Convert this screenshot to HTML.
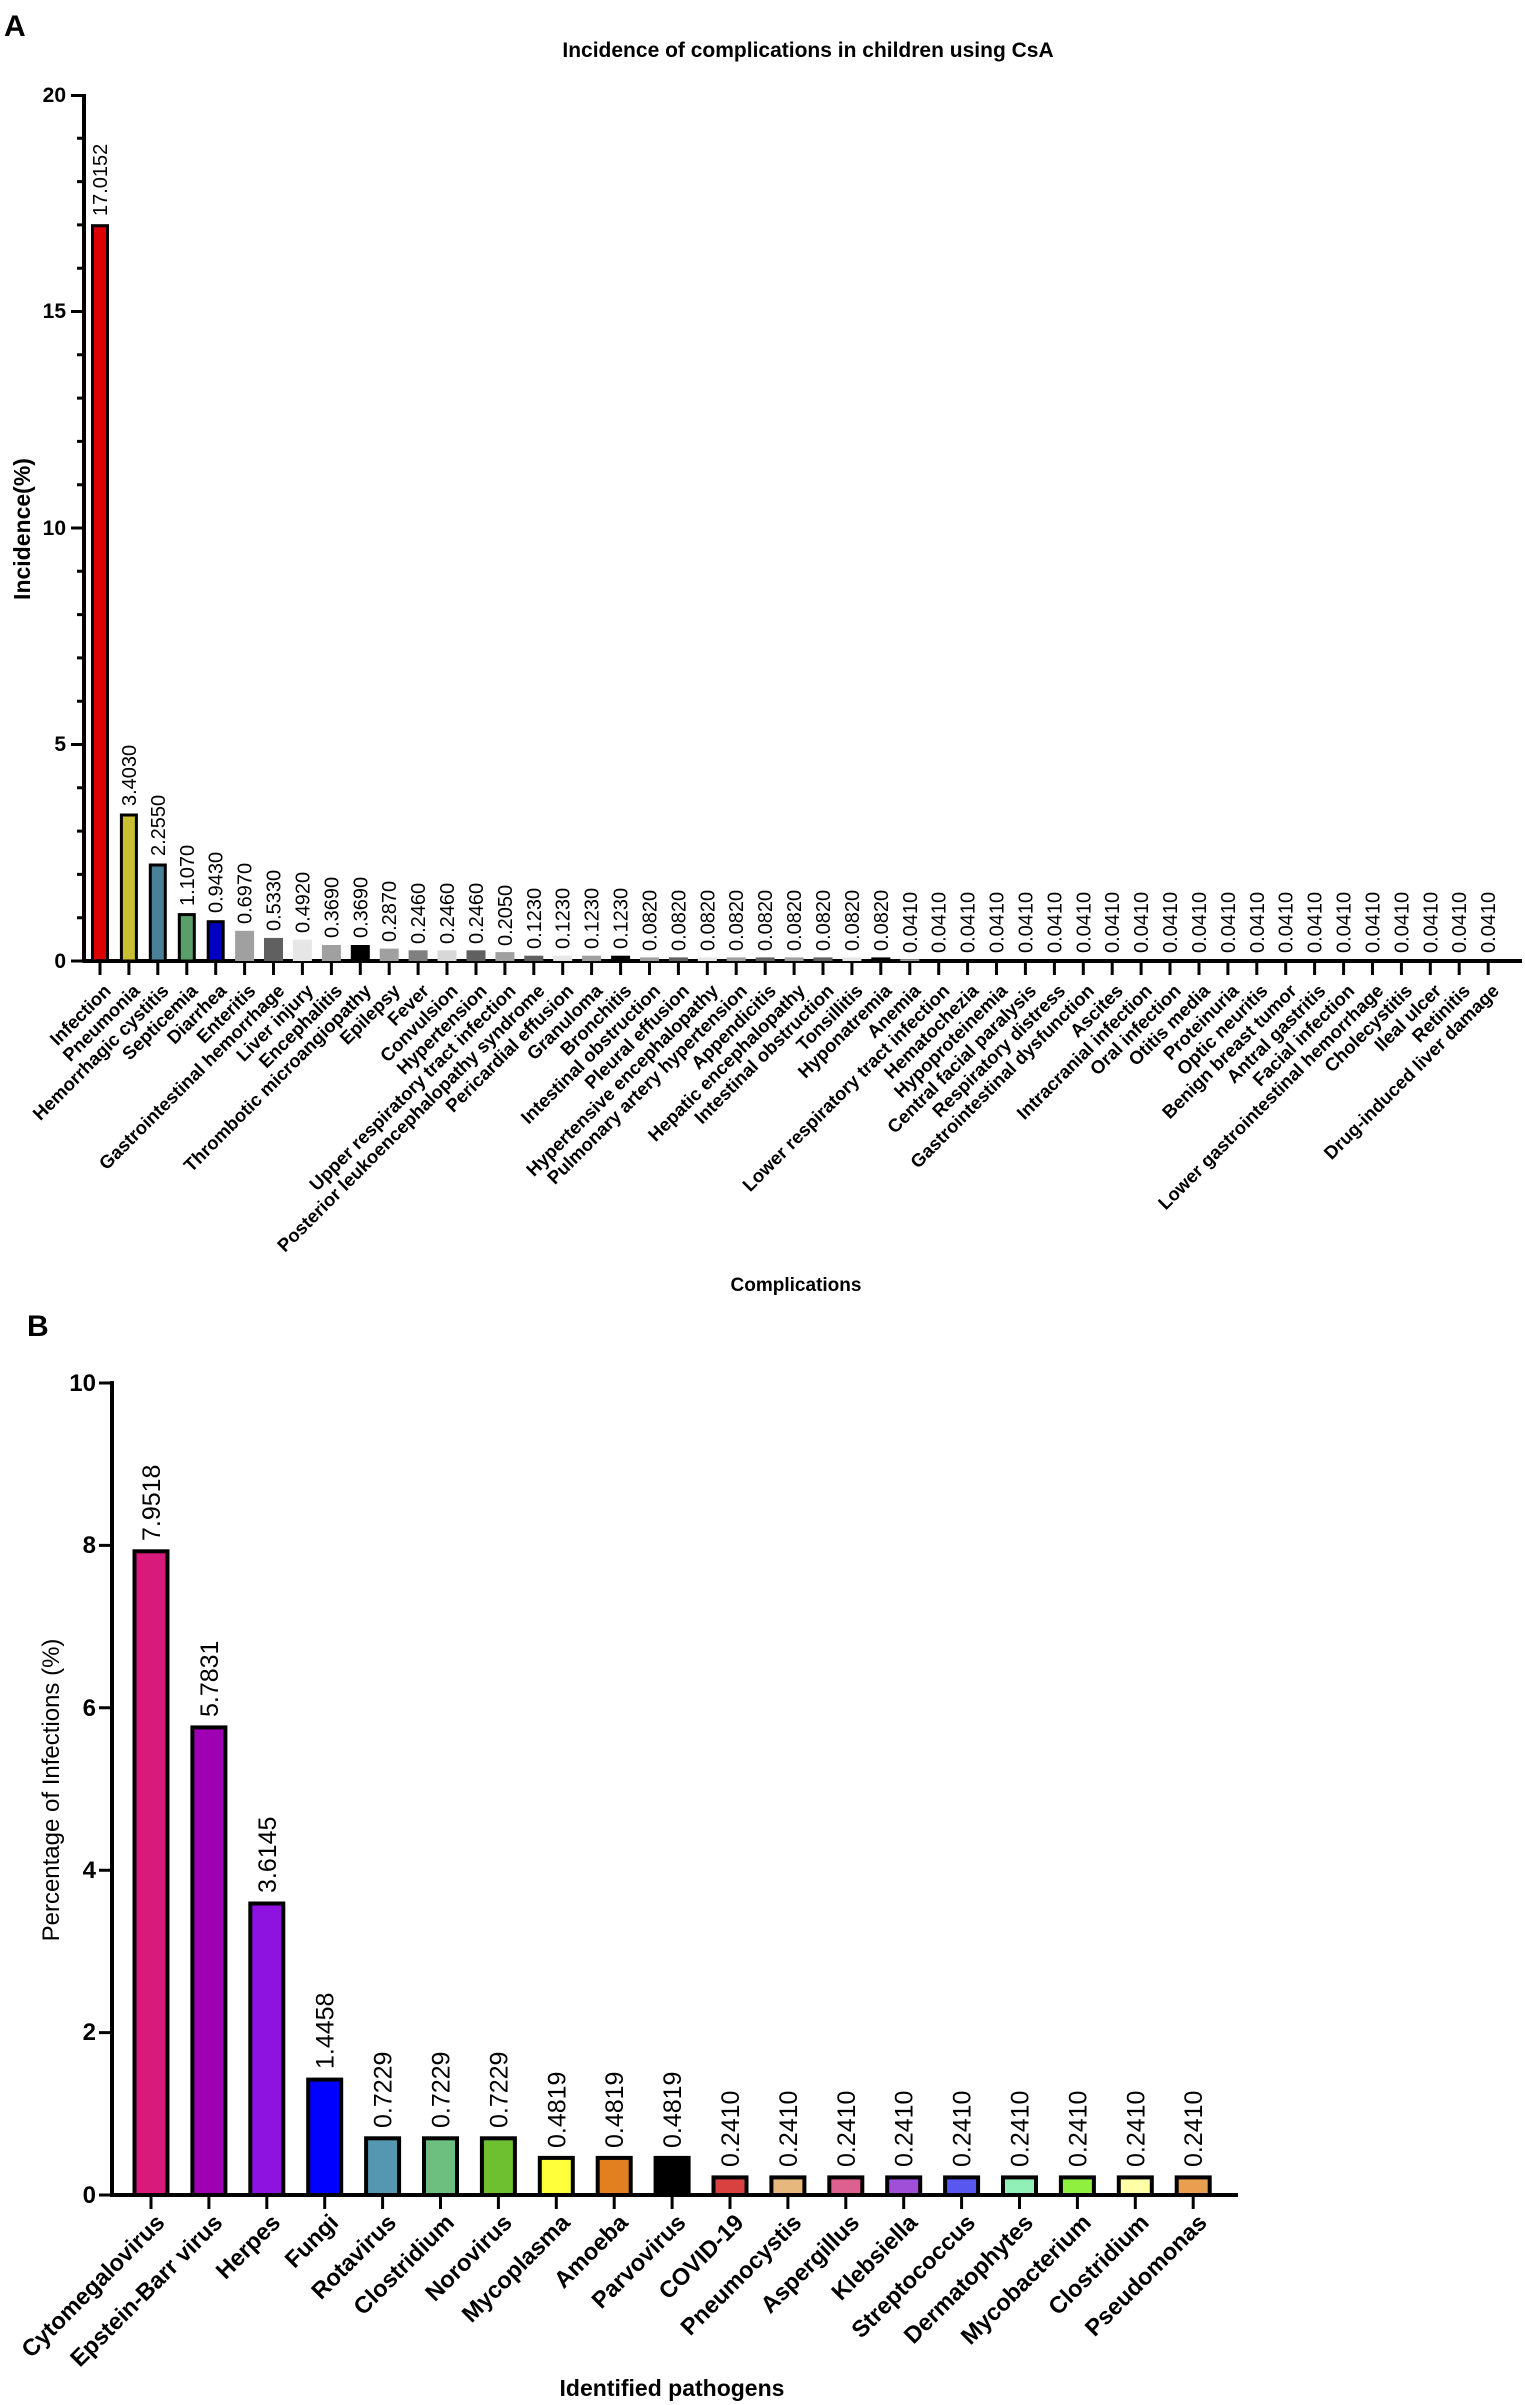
<!DOCTYPE html>
<html><head><meta charset="utf-8"><style>
body{margin:0;background:#fff}
svg{display:block}
text{font-family:"Liberation Sans",Arial,sans-serif;fill:#000}
.v{font-size:20px}
.c{font-size:18.5px;font-weight:bold;text-anchor:end}
.vb{font-size:25px}
.cb{font-size:23.5px;font-weight:bold;text-anchor:end}
.tk{stroke:#000;stroke-width:3}
.yl{font-size:21px;font-weight:bold;text-anchor:end}
.ylb{font-size:24px;font-weight:bold;text-anchor:end}
</style></head><body>
<svg width="1525" height="2405" viewBox="0 0 1525 2405" xmlns="http://www.w3.org/2000/svg">
<rect width="1525" height="2405" fill="#fff"/>
<!-- Panel A -->
<text x="4" y="36" font-size="30" font-weight="bold">A</text>
<text x="808" y="57" font-size="21" font-weight="bold" text-anchor="middle">Incidence of complications in children using CsA</text>
<text transform="translate(30,529) rotate(-90)" font-size="23" font-weight="bold" text-anchor="middle">Incidence(%)</text>
<text x="796" y="1291" font-size="19" font-weight="bold" text-anchor="middle">Complications</text>
<path d="M84 94V962.5M82.5 961H1522" stroke="#000" stroke-width="4" fill="none"/>
<path class="tk" d="M71 961h13M71 744.5h13M71 528h13M71 311.5h13M71 95.5h13M77 917.7h7M77 874.4h7M77 831.1h7M77 787.8h7M77 701.2h7M77 657.9h7M77 614.6h7M77 571.3h7M77 484.7h7M77 441.4h7M77 398.1h7M77 354.8h7M77 268.2h7M77 224.9h7M77 181.6h7M77 138.3h7"/>
<text class="yl" x="66" y="968">0</text>
<text class="yl" x="66" y="751">5</text>
<text class="yl" x="66" y="535">10</text>
<text class="yl" x="66" y="318">15</text>
<text class="yl" x="66" y="102">20</text>

<g transform="translate(100,0)"><rect x="-7.5" y="225.7" width="15" height="735" fill="#dd0000" stroke="#000" stroke-width="3"/><line class="tk" y1="961" y2="975"/><text class="v" transform="translate(7,216) rotate(-90)">17.0152</text><text class="c" transform="translate(12,992) rotate(-45)">Infection</text></g>
<g transform="translate(128.9,0)"><rect x="-7.5" y="815" width="15" height="146" fill="#c8c030" stroke="#000" stroke-width="3"/><line class="tk" y1="961" y2="975"/><text class="v" transform="translate(7,806) rotate(-90)">3.4030</text><text class="c" transform="translate(12,992) rotate(-45)">Pneumonia</text></g>
<g transform="translate(157.8,0)"><rect x="-7.5" y="865" width="15" height="96" fill="#4a8098" stroke="#000" stroke-width="3"/><line class="tk" y1="961" y2="975"/><text class="v" transform="translate(7,856) rotate(-90)">2.2550</text><text class="c" transform="translate(12,992) rotate(-45)">Hemorrhagic cystitis</text></g>
<g transform="translate(186.8,0)"><rect x="-7.5" y="914.6" width="15" height="46.4" fill="#5a9e6a" stroke="#000" stroke-width="3"/><line class="tk" y1="961" y2="975"/><text class="v" transform="translate(7,906) rotate(-90)">1.1070</text><text class="c" transform="translate(12,992) rotate(-45)">Septicemia</text></g>
<g transform="translate(215.7,0)"><rect x="-7.5" y="921.7" width="15" height="39.3" fill="#0000c0" stroke="#000" stroke-width="3"/><line class="tk" y1="961" y2="975"/><text class="v" transform="translate(7,913) rotate(-90)">0.9430</text><text class="c" transform="translate(12,992) rotate(-45)">Diarrhea</text></g>
<g transform="translate(244.6,0)"><rect x="-9.5" y="930.8" width="19" height="30.2" fill="#a0a0a0"/><line class="tk" y1="961" y2="975"/><text class="v" transform="translate(7,924) rotate(-90)">0.6970</text><text class="c" transform="translate(12,992) rotate(-45)">Enteritis</text></g>
<g transform="translate(273.5,0)"><rect x="-9.5" y="937.9" width="19" height="23.1" fill="#606060"/><line class="tk" y1="961" y2="975"/><text class="v" transform="translate(7,931) rotate(-90)">0.5330</text><text class="c" transform="translate(12,992) rotate(-45)">Gastrointestinal hemorrhage</text></g>
<g transform="translate(302.4,0)"><rect x="-9.5" y="939.7" width="19" height="21.3" fill="#e6e6e6"/><line class="tk" y1="961" y2="975"/><text class="v" transform="translate(7,933) rotate(-90)">0.4920</text><text class="c" transform="translate(12,992) rotate(-45)">Liver injury</text></g>
<g transform="translate(331.4,0)"><rect x="-9.5" y="945" width="19" height="16" fill="#a0a0a0"/><line class="tk" y1="961" y2="975"/><text class="v" transform="translate(7,938) rotate(-90)">0.3690</text><text class="c" transform="translate(12,992) rotate(-45)">Encephalitis</text></g>
<g transform="translate(360.3,0)"><rect x="-9.5" y="945" width="19" height="16" fill="#000"/><line class="tk" y1="961" y2="975"/><text class="v" transform="translate(7,938) rotate(-90)">0.3690</text><text class="c" transform="translate(12,992) rotate(-45)">Thrombotic microangiopathy</text></g>
<g transform="translate(389.2,0)"><rect x="-9.5" y="948.6" width="19" height="12.4" fill="#a0a0a0"/><line class="tk" y1="961" y2="975"/><text class="v" transform="translate(7,942) rotate(-90)">0.2870</text><text class="c" transform="translate(12,992) rotate(-45)">Epilepsy</text></g>
<g transform="translate(418.1,0)"><rect x="-9.5" y="950.3" width="19" height="10.7" fill="#808080"/><line class="tk" y1="961" y2="975"/><text class="v" transform="translate(7,944) rotate(-90)">0.2460</text><text class="c" transform="translate(12,992) rotate(-45)">Fever</text></g>
<g transform="translate(447,0)"><rect x="-9.5" y="950.3" width="19" height="10.7" fill="#d8d8d8"/><line class="tk" y1="961" y2="975"/><text class="v" transform="translate(7,944) rotate(-90)">0.2460</text><text class="c" transform="translate(12,992) rotate(-45)">Convulsion</text></g>
<g transform="translate(476,0)"><rect x="-9.5" y="950.3" width="19" height="10.7" fill="#606060"/><line class="tk" y1="961" y2="975"/><text class="v" transform="translate(7,944) rotate(-90)">0.2460</text><text class="c" transform="translate(12,992) rotate(-45)">Hypertension</text></g>
<g transform="translate(504.9,0)"><rect x="-9.5" y="952.1" width="19" height="8.9" fill="#a0a0a0"/><line class="tk" y1="961" y2="975"/><text class="v" transform="translate(7,946) rotate(-90)">0.2050</text><text class="c" transform="translate(12,992) rotate(-45)">Upper respiratory tract infection</text></g>
<g transform="translate(533.8,0)"><rect x="-9.5" y="955.7" width="19" height="5.3" fill="#606060"/><line class="tk" y1="961" y2="975"/><text class="v" transform="translate(7,949) rotate(-90)">0.1230</text><text class="c" transform="translate(12,992) rotate(-45)">Posterior leukoencephalopathy syndrome</text></g>
<g transform="translate(562.7,0)"><rect x="-9.5" y="955.7" width="19" height="5.3" fill="#e6e6e6"/><line class="tk" y1="961" y2="975"/><text class="v" transform="translate(7,949) rotate(-90)">0.1230</text><text class="c" transform="translate(12,992) rotate(-45)">Pericardial effusion</text></g>
<g transform="translate(591.6,0)"><rect x="-9.5" y="955.7" width="19" height="5.3" fill="#a0a0a0"/><line class="tk" y1="961" y2="975"/><text class="v" transform="translate(7,949) rotate(-90)">0.1230</text><text class="c" transform="translate(12,992) rotate(-45)">Granuloma</text></g>
<g transform="translate(620.6,0)"><rect x="-9.5" y="955.7" width="19" height="5.3" fill="#000"/><line class="tk" y1="961" y2="975"/><text class="v" transform="translate(7,949) rotate(-90)">0.1230</text><text class="c" transform="translate(12,992) rotate(-45)">Bronchitis</text></g>
<g transform="translate(649.5,0)"><rect x="-9.5" y="957.4" width="19" height="3.6" fill="#a0a0a0"/><line class="tk" y1="961" y2="975"/><text class="v" transform="translate(7,951) rotate(-90)">0.0820</text><text class="c" transform="translate(12,992) rotate(-45)">Intestinal obstruction</text></g>
<g transform="translate(678.4,0)"><rect x="-9.5" y="957.4" width="19" height="3.6" fill="#606060"/><line class="tk" y1="961" y2="975"/><text class="v" transform="translate(7,951) rotate(-90)">0.0820</text><text class="c" transform="translate(12,992) rotate(-45)">Pleural effusion</text></g>
<g transform="translate(707.3,0)"><rect x="-9.5" y="957.4" width="19" height="3.6" fill="#e6e6e6"/><line class="tk" y1="961" y2="975"/><text class="v" transform="translate(7,951) rotate(-90)">0.0820</text><text class="c" transform="translate(12,992) rotate(-45)">Hypertensive encephalopathy</text></g>
<g transform="translate(736.2,0)"><rect x="-9.5" y="957.4" width="19" height="3.6" fill="#a0a0a0"/><line class="tk" y1="961" y2="975"/><text class="v" transform="translate(7,951) rotate(-90)">0.0820</text><text class="c" transform="translate(12,992) rotate(-45)">Pulmonary artery hypertension</text></g>
<g transform="translate(765.2,0)"><rect x="-9.5" y="957.4" width="19" height="3.6" fill="#606060"/><line class="tk" y1="961" y2="975"/><text class="v" transform="translate(7,951) rotate(-90)">0.0820</text><text class="c" transform="translate(12,992) rotate(-45)">Appendicitis</text></g>
<g transform="translate(794.1,0)"><rect x="-9.5" y="957.4" width="19" height="3.6" fill="#a0a0a0"/><line class="tk" y1="961" y2="975"/><text class="v" transform="translate(7,951) rotate(-90)">0.0820</text><text class="c" transform="translate(12,992) rotate(-45)">Hepatic encephalopathy</text></g>
<g transform="translate(823,0)"><rect x="-9.5" y="957.4" width="19" height="3.6" fill="#606060"/><line class="tk" y1="961" y2="975"/><text class="v" transform="translate(7,951) rotate(-90)">0.0820</text><text class="c" transform="translate(12,992) rotate(-45)">Intestinal obstruction</text></g>
<g transform="translate(851.9,0)"><rect x="-9.5" y="957.4" width="19" height="3.6" fill="#e6e6e6"/><line class="tk" y1="961" y2="975"/><text class="v" transform="translate(7,951) rotate(-90)">0.0820</text><text class="c" transform="translate(12,992) rotate(-45)">Tonsillitis</text></g>
<g transform="translate(880.8,0)"><rect x="-9.5" y="957.4" width="19" height="3.6" fill="#000"/><line class="tk" y1="961" y2="975"/><text class="v" transform="translate(7,951) rotate(-90)">0.0820</text><text class="c" transform="translate(12,992) rotate(-45)">Hyponatremia</text></g>
<g transform="translate(909.8,0)"><rect x="-9.5" y="959.2" width="19" height="1.8" fill="#a0a0a0"/><line class="tk" y1="961" y2="975"/><text class="v" transform="translate(7,953) rotate(-90)">0.0410</text><text class="c" transform="translate(12,992) rotate(-45)">Anemia</text></g>
<g transform="translate(938.7,0)"><line class="tk" y1="961" y2="975"/><text class="v" transform="translate(7,953) rotate(-90)">0.0410</text><text class="c" transform="translate(12,992) rotate(-45)">Lower respiratory tract infection</text></g>
<g transform="translate(967.6,0)"><line class="tk" y1="961" y2="975"/><text class="v" transform="translate(7,953) rotate(-90)">0.0410</text><text class="c" transform="translate(12,992) rotate(-45)">Hematochezia</text></g>
<g transform="translate(996.5,0)"><line class="tk" y1="961" y2="975"/><text class="v" transform="translate(7,953) rotate(-90)">0.0410</text><text class="c" transform="translate(12,992) rotate(-45)">Hypoproteinemia</text></g>
<g transform="translate(1025.4,0)"><line class="tk" y1="961" y2="975"/><text class="v" transform="translate(7,953) rotate(-90)">0.0410</text><text class="c" transform="translate(12,992) rotate(-45)">Central facial paralysis</text></g>
<g transform="translate(1054.4,0)"><line class="tk" y1="961" y2="975"/><text class="v" transform="translate(7,953) rotate(-90)">0.0410</text><text class="c" transform="translate(12,992) rotate(-45)">Respiratory distress</text></g>
<g transform="translate(1083.3,0)"><line class="tk" y1="961" y2="975"/><text class="v" transform="translate(7,953) rotate(-90)">0.0410</text><text class="c" transform="translate(12,992) rotate(-45)">Gastrointestinal dysfunction</text></g>
<g transform="translate(1112.2,0)"><line class="tk" y1="961" y2="975"/><text class="v" transform="translate(7,953) rotate(-90)">0.0410</text><text class="c" transform="translate(12,992) rotate(-45)">Ascites</text></g>
<g transform="translate(1141.1,0)"><line class="tk" y1="961" y2="975"/><text class="v" transform="translate(7,953) rotate(-90)">0.0410</text><text class="c" transform="translate(12,992) rotate(-45)">Intracranial infection</text></g>
<g transform="translate(1170,0)"><line class="tk" y1="961" y2="975"/><text class="v" transform="translate(7,953) rotate(-90)">0.0410</text><text class="c" transform="translate(12,992) rotate(-45)">Oral infection</text></g>
<g transform="translate(1199,0)"><line class="tk" y1="961" y2="975"/><text class="v" transform="translate(7,953) rotate(-90)">0.0410</text><text class="c" transform="translate(12,992) rotate(-45)">Otitis media</text></g>
<g transform="translate(1227.9,0)"><line class="tk" y1="961" y2="975"/><text class="v" transform="translate(7,953) rotate(-90)">0.0410</text><text class="c" transform="translate(12,992) rotate(-45)">Proteinuria</text></g>
<g transform="translate(1256.8,0)"><line class="tk" y1="961" y2="975"/><text class="v" transform="translate(7,953) rotate(-90)">0.0410</text><text class="c" transform="translate(12,992) rotate(-45)">Optic neuritis</text></g>
<g transform="translate(1285.7,0)"><line class="tk" y1="961" y2="975"/><text class="v" transform="translate(7,953) rotate(-90)">0.0410</text><text class="c" transform="translate(12,992) rotate(-45)">Benign breast tumor</text></g>
<g transform="translate(1314.6,0)"><line class="tk" y1="961" y2="975"/><text class="v" transform="translate(7,953) rotate(-90)">0.0410</text><text class="c" transform="translate(12,992) rotate(-45)">Antral gastritis</text></g>
<g transform="translate(1343.6,0)"><line class="tk" y1="961" y2="975"/><text class="v" transform="translate(7,953) rotate(-90)">0.0410</text><text class="c" transform="translate(12,992) rotate(-45)">Facial infection</text></g>
<g transform="translate(1372.5,0)"><line class="tk" y1="961" y2="975"/><text class="v" transform="translate(7,953) rotate(-90)">0.0410</text><text class="c" transform="translate(12,992) rotate(-45)">Lower gastrointestinal hemorrhage</text></g>
<g transform="translate(1401.4,0)"><line class="tk" y1="961" y2="975"/><text class="v" transform="translate(7,953) rotate(-90)">0.0410</text><text class="c" transform="translate(12,992) rotate(-45)">Cholecystitis</text></g>
<g transform="translate(1430.3,0)"><line class="tk" y1="961" y2="975"/><text class="v" transform="translate(7,953) rotate(-90)">0.0410</text><text class="c" transform="translate(12,992) rotate(-45)">Ileal ulcer</text></g>
<g transform="translate(1459.2,0)"><line class="tk" y1="961" y2="975"/><text class="v" transform="translate(7,953) rotate(-90)">0.0410</text><text class="c" transform="translate(12,992) rotate(-45)">Retinitis</text></g>
<g transform="translate(1488.2,0)"><line class="tk" y1="961" y2="975"/><text class="v" transform="translate(7,953) rotate(-90)">0.0410</text><text class="c" transform="translate(12,992) rotate(-45)">Drug-induced liver damage</text></g>

<!-- Panel B -->
<text x="27" y="1336" font-size="30" font-weight="bold">B</text>
<text transform="translate(59,1790) rotate(-90)" font-size="24" text-anchor="middle">Percentage of Infections (%)</text>
<text x="672" y="2396" font-size="23" font-weight="bold" text-anchor="middle">Identified pathogens</text>
<path d="M112 1381V2197M110 2195H1238" stroke="#000" stroke-width="4" fill="none"/>
<path class="tk" d="M99 2195h13M99 2032.6h13M99 1870.2h13M99 1707.8h13M99 1545.4h13M99 1383h13"/>
<text class="ylb" x="96" y="2203">0</text>
<text class="ylb" x="96" y="2040">2</text>
<text class="ylb" x="96" y="1878">4</text>
<text class="ylb" x="96" y="1716">6</text>
<text class="ylb" x="96" y="1553">8</text>
<text class="ylb" x="96" y="1391">10</text>

<g transform="translate(151,0)"><rect x="-16.5" y="1551.3" width="33" height="643.7" fill="#d81b7a" stroke="#000" stroke-width="4"/><line class="tk" stroke-width="4" y1="2195" y2="2209"/><text class="vb" transform="translate(9,1541) rotate(-90)">7.9518</text><text class="cb" transform="translate(15,2224) rotate(-45)">Cytomegalovirus</text></g>
<g transform="translate(208.9,0)"><rect x="-16.5" y="1727.4" width="33" height="467.6" fill="#a000b4" stroke="#000" stroke-width="4"/><line class="tk" stroke-width="4" y1="2195" y2="2209"/><text class="vb" transform="translate(9,1717) rotate(-90)">5.7831</text><text class="cb" transform="translate(15,2224) rotate(-45)">Epstein-Barr virus</text></g>
<g transform="translate(266.8,0)"><rect x="-16.5" y="1903.5" width="33" height="291.5" fill="#8e12e0" stroke="#000" stroke-width="4"/><line class="tk" stroke-width="4" y1="2195" y2="2209"/><text class="vb" transform="translate(9,1893) rotate(-90)">3.6145</text><text class="cb" transform="translate(15,2224) rotate(-45)">Herpes</text></g>
<g transform="translate(324.7,0)"><rect x="-16.5" y="2079.6" width="33" height="115.4" fill="#0000ff" stroke="#000" stroke-width="4"/><line class="tk" stroke-width="4" y1="2195" y2="2209"/><text class="vb" transform="translate(9,2069) rotate(-90)">1.4458</text><text class="cb" transform="translate(15,2224) rotate(-45)">Fungi</text></g>
<g transform="translate(382.6,0)"><rect x="-16.5" y="2138.3" width="33" height="56.7" fill="#5597b0" stroke="#000" stroke-width="4"/><line class="tk" stroke-width="4" y1="2195" y2="2209"/><text class="vb" transform="translate(9,2128) rotate(-90)">0.7229</text><text class="cb" transform="translate(15,2224) rotate(-45)">Rotavirus</text></g>
<g transform="translate(440.5,0)"><rect x="-16.5" y="2138.3" width="33" height="56.7" fill="#6cbf7f" stroke="#000" stroke-width="4"/><line class="tk" stroke-width="4" y1="2195" y2="2209"/><text class="vb" transform="translate(9,2128) rotate(-90)">0.7229</text><text class="cb" transform="translate(15,2224) rotate(-45)">Clostridium</text></g>
<g transform="translate(498.4,0)"><rect x="-16.5" y="2138.3" width="33" height="56.7" fill="#6ec030" stroke="#000" stroke-width="4"/><line class="tk" stroke-width="4" y1="2195" y2="2209"/><text class="vb" transform="translate(9,2128) rotate(-90)">0.7229</text><text class="cb" transform="translate(15,2224) rotate(-45)">Norovirus</text></g>
<g transform="translate(556.3,0)"><rect x="-16.5" y="2157.9" width="33" height="37.1" fill="#ffff3a" stroke="#000" stroke-width="4"/><line class="tk" stroke-width="4" y1="2195" y2="2209"/><text class="vb" transform="translate(9,2148) rotate(-90)">0.4819</text><text class="cb" transform="translate(15,2224) rotate(-45)">Mycoplasma</text></g>
<g transform="translate(614.2,0)"><rect x="-16.5" y="2157.9" width="33" height="37.1" fill="#e28020" stroke="#000" stroke-width="4"/><line class="tk" stroke-width="4" y1="2195" y2="2209"/><text class="vb" transform="translate(9,2148) rotate(-90)">0.4819</text><text class="cb" transform="translate(15,2224) rotate(-45)">Amoeba</text></g>
<g transform="translate(672.1,0)"><rect x="-16.5" y="2157.9" width="33" height="37.1" fill="#000" stroke="#000" stroke-width="4"/><line class="tk" stroke-width="4" y1="2195" y2="2209"/><text class="vb" transform="translate(9,2148) rotate(-90)">0.4819</text><text class="cb" transform="translate(15,2224) rotate(-45)">Parvovirus</text></g>
<g transform="translate(730,0)"><rect x="-16.5" y="2177.4" width="33" height="17.6" fill="#d94040" stroke="#000" stroke-width="4"/><line class="tk" stroke-width="4" y1="2195" y2="2209"/><text class="vb" transform="translate(9,2167) rotate(-90)">0.2410</text><text class="cb" transform="translate(15,2224) rotate(-45)">COVID-19</text></g>
<g transform="translate(787.9,0)"><rect x="-16.5" y="2177.4" width="33" height="17.6" fill="#e6b87e" stroke="#000" stroke-width="4"/><line class="tk" stroke-width="4" y1="2195" y2="2209"/><text class="vb" transform="translate(9,2167) rotate(-90)">0.2410</text><text class="cb" transform="translate(15,2224) rotate(-45)">Pneumocystis</text></g>
<g transform="translate(845.8,0)"><rect x="-16.5" y="2177.4" width="33" height="17.6" fill="#dc6090" stroke="#000" stroke-width="4"/><line class="tk" stroke-width="4" y1="2195" y2="2209"/><text class="vb" transform="translate(9,2167) rotate(-90)">0.2410</text><text class="cb" transform="translate(15,2224) rotate(-45)">Aspergillus</text></g>
<g transform="translate(903.7,0)"><rect x="-16.5" y="2177.4" width="33" height="17.6" fill="#a050d8" stroke="#000" stroke-width="4"/><line class="tk" stroke-width="4" y1="2195" y2="2209"/><text class="vb" transform="translate(9,2167) rotate(-90)">0.2410</text><text class="cb" transform="translate(15,2224) rotate(-45)">Klebsiella</text></g>
<g transform="translate(961.6,0)"><rect x="-16.5" y="2177.4" width="33" height="17.6" fill="#5858f0" stroke="#000" stroke-width="4"/><line class="tk" stroke-width="4" y1="2195" y2="2209"/><text class="vb" transform="translate(9,2167) rotate(-90)">0.2410</text><text class="cb" transform="translate(15,2224) rotate(-45)">Streptococcus</text></g>
<g transform="translate(1019.5,0)"><rect x="-16.5" y="2177.4" width="33" height="17.6" fill="#90f0b8" stroke="#000" stroke-width="4"/><line class="tk" stroke-width="4" y1="2195" y2="2209"/><text class="vb" transform="translate(9,2167) rotate(-90)">0.2410</text><text class="cb" transform="translate(15,2224) rotate(-45)">Dermatophytes</text></g>
<g transform="translate(1077.4,0)"><rect x="-16.5" y="2177.4" width="33" height="17.6" fill="#90f040" stroke="#000" stroke-width="4"/><line class="tk" stroke-width="4" y1="2195" y2="2209"/><text class="vb" transform="translate(9,2167) rotate(-90)">0.2410</text><text class="cb" transform="translate(15,2224) rotate(-45)">Mycobacterium</text></g>
<g transform="translate(1135.3,0)"><rect x="-16.5" y="2177.4" width="33" height="17.6" fill="#ffffa8" stroke="#000" stroke-width="4"/><line class="tk" stroke-width="4" y1="2195" y2="2209"/><text class="vb" transform="translate(9,2167) rotate(-90)">0.2410</text><text class="cb" transform="translate(15,2224) rotate(-45)">Clostridium</text></g>
<g transform="translate(1193.2,0)"><rect x="-16.5" y="2177.4" width="33" height="17.6" fill="#e8a050" stroke="#000" stroke-width="4"/><line class="tk" stroke-width="4" y1="2195" y2="2209"/><text class="vb" transform="translate(9,2167) rotate(-90)">0.2410</text><text class="cb" transform="translate(15,2224) rotate(-45)">Pseudomonas</text></g>
</svg>
</body></html>
